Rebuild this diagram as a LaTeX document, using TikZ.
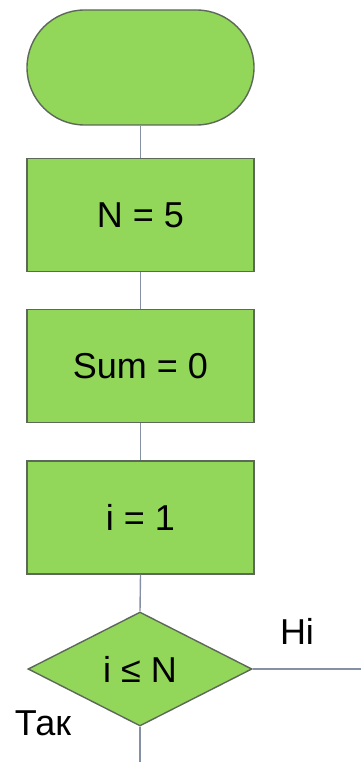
\documentclass[tikz,border=0pt]{standalone}
\usepackage{fontspec}
\setmainfont{Liberation Sans}
\usetikzlibrary{shapes.geometric,shapes.misc}
\definecolor{blockfill}{RGB}{146,214,90}
\definecolor{blockedge}{RGB}{92,104,88}
\definecolor{flowline}{RGB}{132,144,164}
\tikzset{
  block/.style={draw=blockedge, fill=blockfill, line width=1.4pt, inner sep=0pt,
    font=\fontsize{36}{42}\selectfont},
  procbox/.style={block, rectangle, minimum width=227pt, minimum height=113pt},
  termbox/.style={block, rounded rectangle, minimum width=227pt, minimum height=115pt},
  decbox/.style={block, diamond, minimum width=224pt, minimum height=114pt},
  flow/.style={draw=flowline, line width=1.4pt},
  lbl/.style={font=\fontsize{36}{42}\selectfont, inner sep=0pt}
}
\begin{document}
\begin{tikzpicture}[x=1pt,y=-1pt]
  \useasboundingbox (0,0) rectangle (361,762);
  \node[termbox] (start) at (140.5,67.5) {};
  \node[procbox] (n) at (140.5,215) {N = 5};
  \node[procbox] (sum) at (140.5,366) {Sum = 0};
  \node[procbox] (i) at (140.5,517.5) {i = 1};
  \node[decbox] (cond) at (140,669) {i ≤ N};
  \coordinate (noend) at (361,669);
  \coordinate (yesend) at (140,762);
  \draw[flow] (start.south) -- (n.north);
  \draw[flow] (n.south) -- (sum.north);
  \draw[flow] (sum.south) -- (i.north);
  \draw[flow] (i.south) -- (cond.north);
  \draw[flow] (cond.east) -- (noend);
  \draw[flow] (cond.south) -- (yesend);
  \node[lbl] (no) at (297,631) {Ні};
  \node[lbl] (yes) at (43,723) {Так};
\end{tikzpicture}
\end{document}
